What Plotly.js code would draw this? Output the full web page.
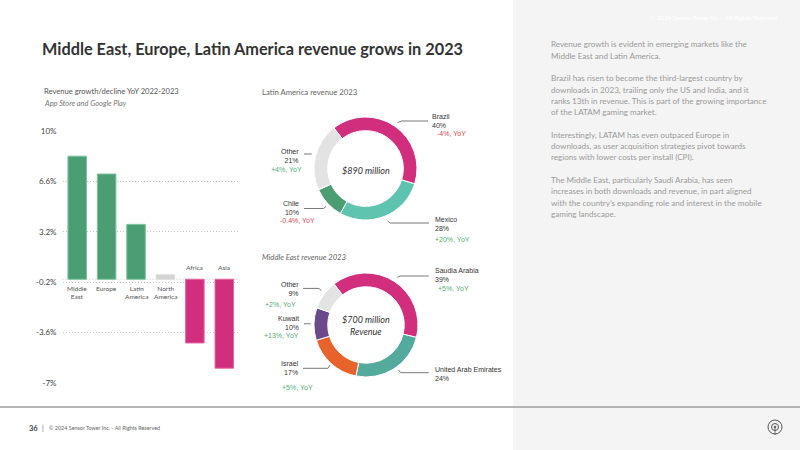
<!DOCTYPE html>
<html>
<head>
<meta charset="utf-8">
<script src="https://cdn.plot.ly/plotly-3.0.1.min.js"></script>
<style>
  html, body { margin: 0; padding: 0; background: #fff; }
  #chart { width: 800px; height: 450px; }
</style>
</head>
<body>
<div id="chart"></div>
<script>
// Revenue growth/decline YoY 2022-2023 by region (%)
const regions = ['Middle East', 'Europe', 'Latin America', 'North America', 'Africa', 'Asia'];
const regionLabels = ['Middle<br>East', 'Europe', 'Latin<br>America', 'North<br>America', 'Africa', 'Asia'];
const growth = [8.3, 7.1, 3.7, 0.3, -4.3, -6.0];
const yTicks = [10, 6.6, 3.2, -0.2, -3.6, -7];
const yTickText = ['10%', '6.6%', '3.2%', '-0.2%', '-3.6%', '-7%'];

// Latin America revenue share 2023 (%)
const latamCountries = ['Brazil', 'Mexico', 'Chile', 'Other'];
const latamShare = [40, 28, 10, 21];
const latamYoY = ['-4%, YoY', '+20%, YoY', '-0.4%, YoY', '+4%, YoY'];
const latamTotal = '$890 million';

// Middle East revenue share 2023 (%)
const meCountries = ['Saudia Arabia', 'United Arab Emirates', 'Israel', 'Kuwait', 'Other'];
const meShare = [39, 24, 17, 10, 9];
const meYoY = ['+5%, YoY', '', '+5%, YoY', '+13%, YoY', '+2%, YoY'];
const meTotal = '$700 million';

// ---- helpers: page pixels -> paper fractions ----
const W = 800, H = 450;
const px = x => x / W;
const py = y => 1 - y / H;
const pathOf = pts => pts.map((p, i) => (i ? 'L' : 'M') + px(p[0]).toFixed(5) + ',' + py(p[1]).toFixed(5)).join(' ');

const PINK = '#d12e7e', GREEN = '#4b9e73', LIGHT = '#e3e3e3';
const SANS = 'Lato, "Open Sans", sans-serif';
const ARIAL = '"Liberation Sans", Arial, sans-serif';
const RED_TXT = '#e0474c', GREEN_TXT = '#4fae72';

const annotations = [];
const shapes = [];

function text(x, y, t, opt) {
  opt = opt || {};
  annotations.push({
    xref: 'paper', yref: 'paper', x: px(x), y: py(y), text: t, showarrow: false,
    xanchor: opt.xanchor || 'left', yanchor: opt.yanchor || 'middle', align: opt.align || opt.xanchor || 'left',
    font: { family: opt.family || SANS, size: opt.size || 9, color: opt.color || '#555',
            weight: opt.weight || 'normal', style: opt.style || 'normal' }
  });
}
function leader(pts) {
  shapes.push({ type: 'path', xref: 'paper', yref: 'paper', path: pathOf(pts),
                line: { color: '#555', width: 0.8 } });
}
function yoyColor(s) { return s.charAt(0) === '-' ? RED_TXT : GREEN_TXT; }

// ---- page furniture ----
shapes.push({ type: 'rect', xref: 'paper', yref: 'paper', x0: px(513), x1: 1, y0: 0, y1: 1,
              fillcolor: '#f4f4f4', line: { width: 0 }, layer: 'below' });
shapes.push({ type: 'line', xref: 'paper', yref: 'paper', x0: 0, x1: 1, y0: py(407), y1: py(407),
              line: { color: '#9e9e9e', width: 1.5 } });

text(40, 48, 'Middle East, Europe, Latin America revenue grows in 2023',
     { size: 16.3, weight: 'bold', color: '#333' });
text(780, 17, '© 2024 Sensor Tower Inc. - All Rights Reserved',
     { xanchor: 'right', size: 6.2, color: '#ffffff' });

// footer
text(27, 428, '36', { size: 7.5, color: '#444', weight: 'bold' });
text(40, 428, '|', { size: 7, color: '#666' });
text(47, 428, '© 2024 Sensor Tower Inc. - All Rights Reserved', { size: 5.4, color: '#666' });
// footer logo
shapes.push({ type: 'circle', xref: 'paper', yref: 'paper', x0: px(768), x1: px(782), y0: py(434), y1: py(420),
              line: { color: '#555', width: 1 } });
shapes.push({ type: 'circle', xref: 'paper', yref: 'paper', x0: px(771.5), x1: px(778.5), y0: py(430.5), y1: py(423.5),
              line: { color: '#555', width: 1 } });
shapes.push({ type: 'circle', xref: 'paper', yref: 'paper', x0: px(774), x1: px(776), y0: py(428), y1: py(426),
              fillcolor: '#555', line: { color: '#555', width: 0.5 } });
leader([[775, 427], [775, 435]]);

// ---- commentary panel, one annotation per line for even leading ----
const notes = [
  ['Revenue growth is evident in emerging markets like the', 'Middle East and Latin America.'],
  ['Brazil has risen to become the third-largest country by', 'downloads in 2023, trailing only the US and India, and it',
   'ranks 13th in revenue. This is part of the growing importance', 'of the LATAM gaming market.'],
  ['Interestingly, LATAM has even outpaced Europe in', 'downloads, as user acquisition strategies pivot towards',
   'regions with lower costs per install (CPI).'],
  ['The Middle East, particularly Saudi Arabia, has seen', 'increases in both downloads and revenue, in part aligned',
   'with the country\u2019s expanding role and interest in the mobile', 'gaming landscape.']
];
const LEAD = 11.3;
let lineY = 44.3;
notes.forEach(par => {
  par.forEach(line => { text(549, lineY, line, { size: 8.1, color: '#9a9a9a' }); lineY += LEAD; });
  lineY += LEAD;
});

// ---- bar chart: YoY growth ----
text(42, 91, 'Revenue growth/decline YoY 2022-2023', { size: 7.6, color: '#555' });
text(42, 103, 'App Store and Google Play', { size: 7.4, color: '#777', style: 'italic' });

const barColors = growth.map(v => v < 0 ? PINK : (v < 1 ? '#d3d3d3' : GREEN));
const barEdges = growth.map(v => v < 0 ? '#e466a4' : (v < 1 ? '#dedede' : '#7cc39c'));

regions.forEach((r, i) => {
  const up = growth[i] >= 0;
  annotations.push({
    xref: 'x', yref: 'y', x: r, y: 0, text: regionLabels[i], showarrow: false,
    xanchor: 'center', yanchor: up ? 'top' : 'bottom', yshift: up ? -4 : 6,
    font: { family: SANS, size: 6.5, color: '#555' }
  });
});
shapes.push({ type: 'line', xref: 'x domain', yref: 'y', x0: 0, x1: 1, y0: 0, y1: 0,
              line: { color: '#c8c8c8', width: 1, dash: '1px,2px' }, layer: 'below' });

// ---- Latin America donut ----
text(260, 92, 'Latin America revenue 2023', { size: 7.7, color: '#666' });
text(365.5, 170, latamTotal, { xanchor: 'center', size: 9, color: '#333', style: 'italic' });

const latamLabelPos = [
  { x: 430, y: 121, side: 'left', yoy: [435, 134] },
  { x: 433, y: 224, side: 'left', yoy: [433, 239] },
  { x: 301, y: 208, side: 'right', yoy: [317, 221] },
  { x: 301, y: 155.5, side: 'right', yoy: [304, 169] }
];
latamCountries.forEach((c, i) => {
  const p = latamLabelPos[i];
  text(p.x, p.y, c + '<br>' + latamShare[i] + '%', { family: ARIAL, size: 7, color: '#333',
       xanchor: p.side === 'left' ? 'left' : 'right' });
  text(p.yoy[0], p.yoy[1], latamYoY[i], { family: ARIAL, size: 7, color: yoyColor(latamYoY[i]),
       xanchor: p.side === 'left' ? 'left' : 'right' });
});
leader([[397.5, 122.7], [401.5, 121], [428, 121]]);
leader([[387.6, 221], [390, 223], [429, 223]]);
leader([[304, 208.5], [323.5, 208.5], [326, 206.5]]);
leader([[304, 154], [311.7, 154]]);

// ---- Middle East donut ----
text(260, 256.5, 'Middle East revenue 2023', { size: 7.7, color: '#666', style: 'italic' });
text(366, 319, meTotal, { xanchor: 'center', size: 9, color: '#333', style: 'italic' });
text(366, 331.5, 'Revenue', { xanchor: 'center', size: 9, color: '#333', style: 'italic' });

const meLabelPos = [
  { x: 433, y: 275, side: 'left', yoy: [435.5, 288.5] },
  { x: 433, y: 374, side: 'left', yoy: null },
  { x: 301, y: 368, side: 'right', yoy: [315, 387.5] },
  { x: 301, y: 323, side: 'right', yoy: [301, 335.5] },
  { x: 301, y: 289, side: 'right', yoy: [298, 304] }
];
meCountries.forEach((c, i) => {
  const p = meLabelPos[i];
  text(p.x, p.y, c + '<br>' + meShare[i] + '%', { family: ARIAL, size: 7, color: '#333',
       xanchor: p.side === 'left' ? 'left' : 'right' });
  if (p.yoy && meYoY[i]) {
    text(p.yoy[0], p.yoy[1], meYoY[i], { family: ARIAL, size: 7, color: yoyColor(meYoY[i]),
         xanchor: p.side === 'left' ? 'left' : 'right' });
  }
});
leader([[397.4, 277.3], [400, 276], [428.7, 276]]);
leader([[398.4, 370], [400.8, 372.7], [428.7, 372.7]]);
leader([[303, 368.3], [328, 368.3], [330, 365]]);
leader([[304, 323.8], [310.7, 323.8]]);
leader([[303, 288.4], [319, 288.4], [321.5, 290.8]]);

// ---- traces ----
const data = [
  {
    type: 'bar', x: regions, y: growth, xaxis: 'x', yaxis: 'y',
    marker: { color: barColors, line: { color: barEdges, width: 1 } },
    hoverinfo: 'x+y', showlegend: false
  },
  {
    type: 'pie', labels: latamCountries, values: latamShare, sort: false,
    direction: 'clockwise', rotation: -38, hole: 0.735, textinfo: 'none', hoverinfo: 'label+percent',
    marker: { colors: [PINK, '#5ec4b0', GREEN, LIGHT], line: { color: '#ffffff', width: 1 } },
    domain: { x: [px(314), px(417)], y: [py(220), py(117)] }, showlegend: false
  },
  {
    type: 'pie', labels: meCountries, values: meShare, sort: false,
    direction: 'clockwise', rotation: -38, hole: 0.735, textinfo: 'none', hoverinfo: 'label+percent',
    marker: { colors: [PINK, '#53aa9d', '#e8632b', '#6b4a8b', LIGHT], line: { color: '#ffffff', width: 1 } },
    domain: { x: [px(314), px(418)], y: [py(377), py(273)] }, showlegend: false
  }
];

const layout = {
  width: W, height: H,
  margin: { l: 0, r: 0, t: 0, b: 0 },
  paper_bgcolor: '#ffffff', plot_bgcolor: 'rgba(0,0,0,0)',
  showlegend: false,
  bargap: 0.37,
  xaxis: {
    domain: [px(62.5), px(239)], showticklabels: false, showgrid: false, zeroline: false,
    showline: false, ticks: '', fixedrange: true
  },
  yaxis: {
    domain: [py(383), py(131)], range: [-7, 10], tickvals: yTicks, ticktext: yTickText,
    showgrid: true, gridcolor: '#c8c8c8', griddash: '1px,2px', gridwidth: 1,
    zeroline: false, showline: false, ticks: '', ticklabelstandoff: 5,
    tickfont: { family: SANS, size: 8, color: '#444' }, fixedrange: true
  },
  annotations: annotations,
  shapes: shapes
};

Plotly.newPlot('chart', data, layout, { displayModeBar: false, staticPlot: true });
</script>
</body>
</html>
